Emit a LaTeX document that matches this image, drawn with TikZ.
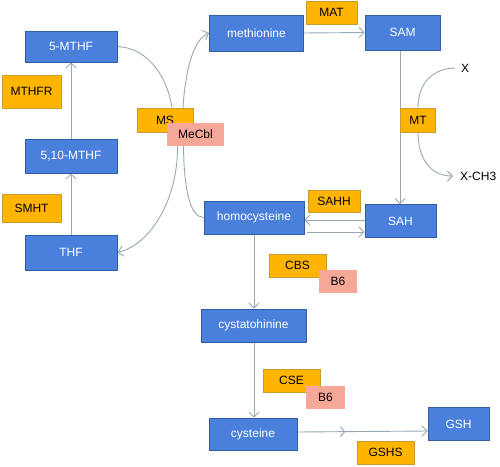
\documentclass[tikz,border=0pt]{standalone}
\usepackage{fontspec}
\setmainfont{Liberation Sans}
\usetikzlibrary{arrows.meta,backgrounds,decorations.markings,calc}
\definecolor{boxblue}{HTML}{4A80DC}
\definecolor{boxblueline}{HTML}{2F5EA6}
\definecolor{enzorange}{HTML}{FFB400}
\definecolor{enzline}{HTML}{C99A2E}
\definecolor{cofpink}{HTML}{F6A898}
\definecolor{arrowgrey}{HTML}{98A8B6}
\begin{document}
\begin{tikzpicture}[x=1pt,y=-1pt,
  every node/.style={font=\fontsize{12}{14}\selectfont, inner sep=0pt},
  bluebox/.style={draw=boxblueline, fill=boxblue, text=white, line width=0.8pt},
  enzbox/.style={draw=enzline, fill=enzorange, text=black, line width=0.6pt},
  cofbox/.style={draw=none, fill=cofpink, text=black},
  conn/.style={draw=arrowgrey, line width=0.9pt},
  arr/.style={conn, -{Straight Barb[length=5pt,width=10pt]}},
  midarr/.style={postaction={decorate}, decoration={markings, mark=at position 0.37 with {\arrow[arrowgrey,line width=0.9pt]{Straight Barb[length=5pt,width=10pt]}}}}
]
\useasboundingbox (0,0) rectangle (500,466);

% left column
\node[bluebox, minimum width=92pt, minimum height=31pt] (mthf5) at (71,46.5) {5-MTHF};
\node[enzbox, minimum width=59pt, minimum height=33pt] (mthfr) at (31.5,91.5) {MTHFR};
\node[bluebox, minimum width=92pt, minimum height=34pt] (mthf510) at (71,156) {5,10-MTHF};
\node[enzbox, minimum width=59pt, minimum height=28pt] (smht) at (31.5,208) {SMHT};
\node[bluebox, minimum width=92pt, minimum height=35pt] (thf) at (71,252.5) {THF};

% MS / MeCbl
\node[enzbox, minimum width=56pt, minimum height=24pt] (ms) at (165,120) {MS};
\node[cofbox, minimum width=57pt, minimum height=23pt] (mecbl) at (195.5,134.5) {MeCbl};

% top row
\node[bluebox, minimum width=94pt, minimum height=36pt] (met) at (256.5,33) {methionine};
\node[enzbox, minimum width=51pt, minimum height=23pt] (mat) at (331.5,12.5) {MAT};
\node[bluebox, minimum width=75pt, minimum height=35pt] (sam) at (402.5,32.5) {SAM};

% MT
\node[enzbox, minimum width=35pt, minimum height=24pt] (mt) at (418,120) {MT};
\node[anchor=west] (x) at (461,68) {X};
\node[anchor=west] (xch3) at (460,176) {X-CH3};

% middle
\node[enzbox, minimum width=52pt, minimum height=22pt] (sahh) at (334,201.5) {SAHH};
\node[bluebox, minimum width=71pt, minimum height=33pt] (sah) at (400.5,221) {SAH};
\node[bluebox, minimum width=100pt, minimum height=33pt] (hcy) at (254,217.5) {homocysteine};

% lower
\node[enzbox, minimum width=57pt, minimum height=23pt] (cbs) at (297.5,265.5) {CBS};
\node[cofbox, minimum width=38pt, minimum height=23pt] (b6a) at (338,281.5) {B6};
\node[bluebox, minimum width=105pt, minimum height=33pt] (cysta) at (253.5,325.5) {cystatohinine};
\node[enzbox, minimum width=57pt, minimum height=23pt] (cse) at (291.5,380.5) {CSE};
\node[cofbox, minimum width=39pt, minimum height=23pt] (b6b) at (325.5,397) {B6};
\node[bluebox, minimum width=88pt, minimum height=32pt] (cys) at (253,434) {cysteine};
\node[bluebox, minimum width=61pt, minimum height=33pt] (gsh) at (458.5,424) {GSH};
\node[enzbox, minimum width=57pt, minimum height=23pt] (gshs) at (385.5,452.5) {GSHS};

\begin{scope}[on background layer]
% folate cycle
\draw[arr] (mthf510.north) -- (mthf5.south);
\draw[arr] (thf.north) -- (mthf510.south);
\draw[conn] (mthf5.east) .. controls (150,48) and (168,80) .. ([xshift=7pt]ms.north);
\draw[arr] ([xshift=18pt]ms.north) .. controls (185,75) and (192,40) .. (met.west);
\draw[arr] ([xshift=-18pt]mecbl.south) .. controls (178,200) and (150,245) .. (thf.east);
\draw[conn] ([xshift=-12pt]mecbl.south) .. controls (184,190) and (190,217) .. (hcy.west);
% methionine cycle
\draw[arr] (met.east) -- (sam.west);
\draw[arr] ([xshift=-2.5pt]sam.south) -- ([xshift=-0.5pt]sah.north);
\draw[conn] ([xshift=-6pt]x.west) .. controls (428,69) and (418,88) .. (mt.north);
\draw[arr] (mt.south) .. controls (418,158) and (430,176) .. ([xshift=-7pt]xch3.west);
\draw[arr] ([yshift=1pt]sah.west) -- ([yshift=-2.5pt]hcy.east);
\draw[arr] ([xshift=3pt,yshift=-14.5pt]hcy.east) -- ([yshift=-11pt]sah.west);
% transsulfuration
\draw[arr] (hcy.south) -- ([xshift=0.5pt]cysta.north);
\draw[arr] ([xshift=0.5pt]cysta.south) -- ([xshift=1pt]cys.north);
\draw[arr, midarr] ([yshift=2pt]cys.east) -- ([yshift=-7pt]gsh.west);
\end{scope}
\end{tikzpicture}
\end{document}
